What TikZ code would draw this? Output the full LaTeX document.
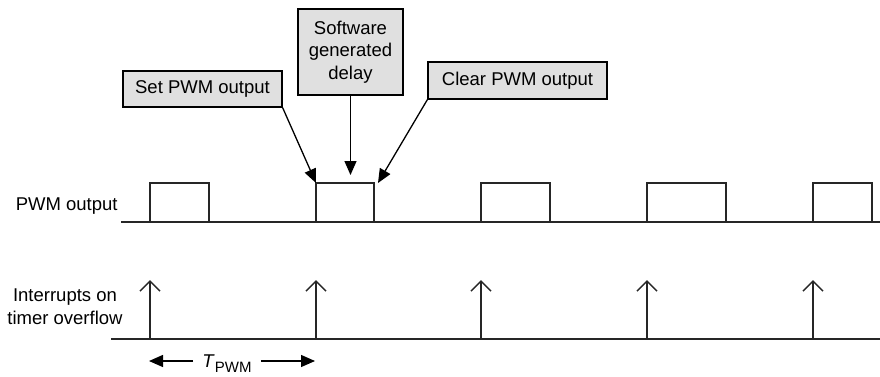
\documentclass[tikz,border=0pt]{standalone}
\usepackage{fontspec}
\setmainfont{Liberation Sans}
\usetikzlibrary{arrows.meta}

\begin{document}
\begin{tikzpicture}[x=0.5pt, y=-0.5pt, font=\fontsize{9.25}{11.25}\selectfont,
  note/.style={draw, fill=black!12, line width=0.6pt, align=center, inner sep=0pt},
  wave/.style={line width=0.75pt, draw=black!85},
  hit/.style={-{Straight Barb[length=5pt,width=10pt]}, line width=0.75pt, draw=black!85},
  tag/.style={-{Triangle[length=7pt,width=6pt]}, line width=0.65pt}]
  \useasboundingbox (0,0) rectangle (880,376);

  % PWM output trace
  \draw[wave] (121,222) -- (880,222);
  \foreach \a/\b [count=\i] in {150/209,316/374,481/550,647/726,813/872} {
    \draw[wave] (\a,222) |- (\b,183) -- (\b,222);
    \coordinate (up\i) at (\a,183);
    \coordinate (dn\i) at (\b,183);
  }
  \node[anchor=east, inner sep=0pt] (pwm) at (118,206) {PWM output};

  % timer overflow interrupts
  \draw[wave] (111,339) -- (880,339);
  \foreach \a [count=\i] in {150,316,481,647,813} {
    \coordinate (tick\i) at (\a,339);
    \coordinate (irq\i) at (\a,280);
    \draw[hit] (tick\i) -- (irq\i);
  }
  \node[align=center, inner sep=0pt] (intr) at (65,306.5) {Interrupts on\\timer overflow};

  % period
  \coordinate (tl) at (149,361);
  \coordinate (tr) at (315,361);
  \node[inner sep=4.5pt] (tpwm) at (227,364)
       {\textit{T}\raisebox{-2.5pt}{\fontsize{7.5}{9}\selectfont PWM}};
  \draw[tag] (tpwm.west |- tl) -- (tl);
  \draw[tag] (tpwm.east |- tr) -- (tr);

  % callouts
  \node[note, minimum width=79.5pt, minimum height=18pt] (set) at (202.5,89) {Set PWM output};
  \node[note, minimum width=52.5pt, minimum height=43pt] (soft) at (350.5,52)
       {Software\\generated\\delay};
  \node[note, minimum width=89.5pt, minimum height=18.5pt] (clr) at (517.5,80.5) {Clear PWM output};
  \draw[tag] (set.south east) -- (up2);
  \draw[tag, shorten >=4pt] (soft.south) -- (soft.south |- up2);
  \draw[tag] (clr.south west) -- ([xshift=2pt]dn2);
\end{tikzpicture}
\end{document}
